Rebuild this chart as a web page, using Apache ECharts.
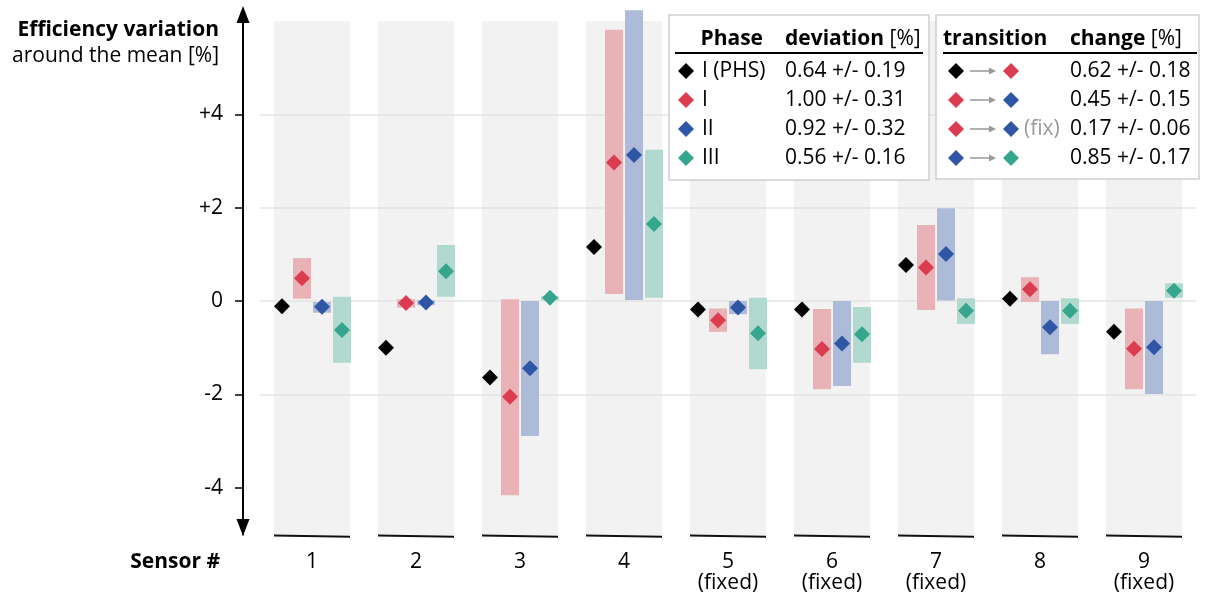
<!DOCTYPE html>
<html><head><meta charset="utf-8">
<script src="https://cdn.jsdelivr.net/npm/echarts@6/dist/echarts.min.js"></script>
<style>html,body{margin:0;padding:0;background:#fff}#c{width:1208px;height:597px}</style>
</head><body><div id="c"></div>
<script>
// ---------- data ----------
const sensors = ['1','2','3','4','5','6','7','8','9'];
const fixedSensor = [false,false,false,false,true,true,true,false,true];
const phsValues   = [-0.11, -1.00, -1.64, 1.16, -0.18, -0.18, 0.77, 0.05, -0.66];
const phase1      = [0.49, -0.04, -2.05, 2.97, -0.41, -1.03, 0.72, 0.25, -1.02];
const phase1Low   = [0.05, -0.14, -4.16, 0.15, -0.66, -1.89, -0.19, -0.02, -1.89];
const phase1High  = [0.92, 0.04, 0.04, 5.81, -0.16, -0.17, 1.63, 0.51, -0.16];
const phase2      = [-0.12, -0.03, -1.44, 3.13, -0.14, -0.91, 1.01, -0.56, -0.99];
const phase2Low   = [-0.25, -0.09, -2.89, 0.02, -0.28, -1.82, 0.01, -1.14, -1.99];
const phase2High  = [-0.02, 0.02, 0.00, 6.23, 0.00, 0.00, 1.99, 0.00, 0.00];
const phase3      = [-0.62, 0.64, 0.07, 1.65, -0.69, -0.71, -0.21, -0.21, 0.22];
const phase3Low   = [-1.32, 0.09, 0.02, 0.07, -1.46, -1.32, -0.49, -0.49, 0.07];
const phase3High  = [0.09, 1.20, 0.10, 3.24, 0.07, -0.13, 0.06, 0.06, 0.38];
const yTicks = [-4, -2, 0, 2, 4];
const yMin = -5, yMax = 6;
const phaseNames = ['I (PHS)', 'I', 'II', 'III'];
const phaseDeviation = ['0.64 +/- 0.19', '1.00 +/- 0.31', '0.92 +/- 0.32', '0.56 +/- 0.16'];
const transitionFrom = [0, 1, 1, 2];
const transitionTo   = [1, 2, 2, 3];
const transitionFix  = [false, false, true, false];
const transitionChange = ['0.62 +/- 0.18', '0.45 +/- 0.15', '0.17 +/- 0.06', '0.85 +/- 0.17'];

// ---------- styles ----------
const FONT = 'Open Sans';
const FS = 21;
const markColors = ['#000000', '#dc3c50', '#2f55a5', '#35a68d'];
const barColors  = [null, '#e9b2b6', '#adbad8', '#b1d9cf'];
const offsetsPx  = [-30, -10, 10, 30];

function barSeries(low, high, k) {
  return {
    type: 'custom', coordinateSystem: 'cartesian2d', z: 3, clip: false, silent: true,
    encode: { x: 0, y: [1, 2] },
    data: low.map((l, i) => [i, l, high[i]]),
    renderItem(params, api) {
      const bw = api.size([1, 0])[0];
      const pTop = api.coord([api.value(0), api.value(2)]);
      const pBot = api.coord([api.value(0), api.value(1)]);
      const w = bw * 18 / 104;
      const cx = pTop[0] + bw * offsetsPx[k] / 104;
      return { type: 'rect', shape: { x: cx - w / 2, y: pTop[1], width: w, height: pBot[1] - pTop[1] },
               style: { fill: barColors[k] } };
    }
  };
}
function pointSeries(vals, k) {
  return {
    type: 'scatter', z: 5, silent: true, symbol: 'diamond', symbolSize: 16,
    symbolOffset: [offsetsPx[k], 0],
    itemStyle: { color: markColors[k], opacity: 1 },
    data: vals.map((v, i) => [i, v])
  };
}

const columnSeries = {
  type: 'custom', coordinateSystem: 'cartesian2d', z: -1, silent: true, clip: false,
  encode: { x: 0 },
  data: sensors.map((s, i) => [i]),
  renderItem(params, api) {
    const bw = api.size([1, 0])[0];
    const top = api.coord([api.value(0), yMax]);
    const bot = api.coord([api.value(0), yMin]);
    const w = bw * 76 / 104;
    return { type: 'group', children: [
      { type: 'rect', shape: { x: top[0] - w / 2, y: top[1], width: w, height: bot[1] - top[1] + 1 }, style: { fill: '#f2f2f2' } },
      { type: 'line', shape: { x1: top[0] - w / 2, y1: bot[1] + 1.2, x2: top[0] + w / 2, y2: bot[1] + 2.4 }, style: { stroke: '#111', lineWidth: 2 } }
    ]};
  }
};

// ---------- graphics: titles + legend tables ----------
function diamond(cx, cy, color) {
  return { type: 'polygon', shape: { points: [[cx, cy - 8], [cx + 8, cy], [cx, cy + 8], [cx - 8, cy]] }, style: { fill: color } };
}
function txt(x, y, text, opts) {
  return { type: 'text', x, y, style: Object.assign({ text, fill: '#000', font: FS + 'px "' + FONT + '"', align: 'left', verticalAlign: 'middle' }, opts || {}) };
}
const BOLD = 'bold ' + FS + 'px "' + FONT + '"';
const rowY = [71, 100, 129, 158];
const g = [];
g.push(txt(219, 30, 'Efficiency variation', { font: BOLD, align: 'right' }));
g.push(txt(219, 56, 'around the mean [%]', { align: 'right' }));
g.push(txt(220, 562, 'Sensor #', { font: BOLD, align: 'right' }));
// box 1
g.push({ type: 'rect', shape: { x: 669, y: 15, width: 260, height: 165 }, style: { fill: '#fff', stroke: '#d0d0d0', lineWidth: 1.5 }, z: 10 });
g.push(Object.assign(txt(763, 39, 'Phase', { font: BOLD, align: 'right' }), { z: 11 }));
g.push(Object.assign({ type: 'text', x: 785, y: 39, z: 11, style: { text: '{b|deviation} [%]', fill: '#000', font: FS + 'px "' + FONT + '"', verticalAlign: 'middle',
  rich: { b: { fontWeight: 'bold', fontSize: FS, fontFamily: FONT, fill: '#000' } } } }));
g.push({ type: 'line', z: 11, shape: { x1: 675, y1: 53, x2: 923, y2: 53 }, style: { stroke: '#000', lineWidth: 2 } });
phaseNames.forEach((n, i) => {
  g.push(Object.assign(diamond(686, rowY[i], markColors[i]), { z: 11 }));
  g.push(Object.assign(txt(702, rowY[i], n), { z: 11 }));
  g.push(Object.assign(txt(785, rowY[i], phaseDeviation[i]), { z: 11 }));
});
// box 2
g.push({ type: 'rect', shape: { x: 936, y: 15, width: 263, height: 164 }, style: { fill: '#fff', stroke: '#d0d0d0', lineWidth: 1.5 }, z: 10 });
g.push(Object.assign(txt(943, 39, 'transition', { font: BOLD }), { z: 11 }));
g.push(Object.assign({ type: 'text', x: 1070, y: 39, z: 11, style: { text: '{b|change} [%]', fill: '#000', font: FS + 'px "' + FONT + '"', verticalAlign: 'middle',
  rich: { b: { fontWeight: 'bold', fontSize: FS, fontFamily: FONT, fill: '#000' } } } }));
g.push({ type: 'line', z: 11, shape: { x1: 943, y1: 53, x2: 1197, y2: 53 }, style: { stroke: '#000', lineWidth: 2 } });
transitionChange.forEach((c, i) => {
  const y = rowY[i];
  g.push(Object.assign(diamond(956, y, markColors[transitionFrom[i]]), { z: 11 }));
  g.push({ type: 'line', z: 11, shape: { x1: 970, y1: y, x2: 990, y2: y }, style: { stroke: '#999', lineWidth: 1.5 } });
  g.push({ type: 'polygon', z: 11, shape: { points: [[989, y - 3.5], [996, y], [989, y + 3.5]] }, style: { fill: '#999' } });
  g.push(Object.assign(diamond(1011, y, markColors[transitionTo[i]]), { z: 11 }));
  if (transitionFix[i]) g.push(Object.assign(txt(1024, y, '(fix)', { fill: '#999' }), { z: 11 }));
  g.push(Object.assign(txt(1070, y, c), { z: 11 }));
});

const chart = echarts.init(document.getElementById('c'), null, { renderer: 'canvas' });
chart.setOption({
  animation: false,
  backgroundColor: '#fff',
  textStyle: { fontFamily: FONT },
  grid: { left: 260, right: 12, top: 21, height: 513.4 },
  xAxis: {
    type: 'category', data: sensors,
    axisLine: { show: false }, axisTick: { show: false }, splitLine: { show: false },
    axisLabel: { formatter: (v, i) => fixedSensor[i] ? v + '\n(fixed)' : v, margin: 17, fontSize: FS, lineHeight: 21, color: '#000', fontFamily: FONT }
  },
  yAxis: {
    type: 'value', min: yMin, max: yMax, splitNumber: 5, offset: 17,
    axisLine: { show: true, lineStyle: { color: '#000', width: 2 }, symbol: ['triangle', 'triangle'], symbolSize: [13, 17], symbolOffset: [7, 6.5] },
    axisTick: { show: true, length: 8, customValues: yTicks, lineStyle: { color: '#000', width: 1.5 } },
    axisLabel: { customValues: yTicks, formatter: v => v > 0 ? '+' + v : String(v), margin: 20, fontSize: FS, color: '#000', fontFamily: FONT },
    splitLine: { show: true, showMinLine: false, lineStyle: { color: '#e3e3e3', width: 1.5 } }
  },
  series: [
    columnSeries,
    barSeries(phase1Low, phase1High, 1),
    barSeries(phase2Low, phase2High, 2),
    barSeries(phase3Low, phase3High, 3),
    pointSeries(phsValues, 0),
    pointSeries(phase1, 1),
    pointSeries(phase2, 2),
    pointSeries(phase3, 3)
  ],
  graphic: { elements: g }
});
</script></body></html>
